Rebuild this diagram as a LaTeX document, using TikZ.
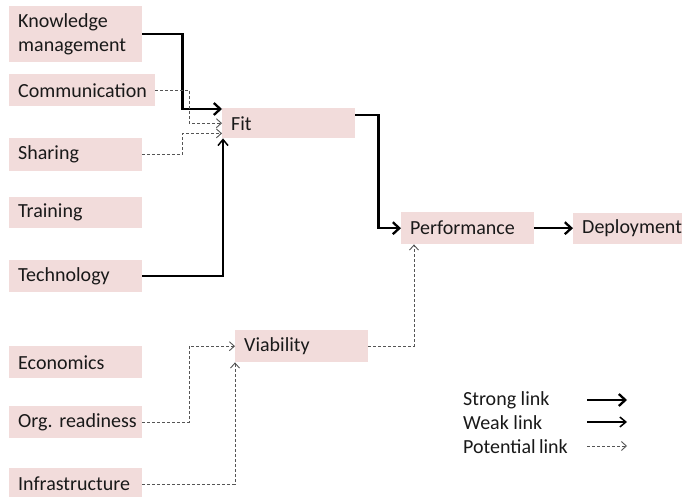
\documentclass[tikz,border=0pt]{standalone}
\usepackage{fontspec}
\setmainfont{Carlito}
\usetikzlibrary{arrows.meta,calc}
\frenchspacing
\definecolor{boxpink}{RGB}{242,220,219}
\definecolor{potgray}{RGB}{85,85,85}
\tikzset{
  factor/.style={fill=boxpink, anchor=north west, inner xsep=9pt, inner ysep=0pt,
    align=left, font=\fontsize{20}{24}\selectfont, text=black!90},
  legendtext/.style={anchor=west, inner sep=0pt, font=\fontsize{20}{24}\selectfont, text=black!90},
  strong/.style={line width=2.3pt, -{Straight Barb[length=6.5pt,width=12pt,line width=2.3pt]}},
  weak/.style={line width=1.5pt, -{Straight Barb[length=6pt,width=10pt,line width=1.5pt]}},
  potential/.style={line width=0.9pt, potgray, dash pattern=on 3pt off 2pt,
    -{Straight Barb[length=5pt,width=9pt,line width=0.9pt]}},
}
\begin{document}
\begin{tikzpicture}[x=1pt, y=-1pt]
\useasboundingbox (0,0) rectangle (682,497);

% input factors
\node[factor, text width=115pt, minimum height=56pt] (km) at (9,6) {Knowledge\\management};
\node[factor, text width=128pt, minimum height=32pt] (comm) at (9,74) {\mbox{Communication}};
\node[factor, text width=115pt, minimum height=33pt] (share) at (9,138) {\mbox{Sharing}};
\node[factor, text width=115pt, minimum height=31pt] (train) at (9,197) {\mbox{Training}};
\node[factor, text width=115pt, minimum height=32pt] (tech) at (9,260) {\mbox{Technology}};
\node[factor, text width=115pt, minimum height=32pt] (econ) at (9,346) {\mbox{Economics}};
\node[factor, text width=115pt, minimum height=32pt] (org) at (9,406) {\mbox{Org. readiness}};
\node[factor, text width=115pt, minimum height=32pt] (infra) at (9,468) {\mbox{Infrastructure}};

% intermediate and outcome nodes
\node[factor, text width=115pt, minimum height=30pt] (fit) at (222,108) {\mbox{Fit}};
\node[factor, text width=115pt, minimum height=32pt] (via) at (235,330) {\mbox{Viability}};
\node[factor, text width=115pt, minimum height=32pt] (perf) at (401,212) {\mbox{Performance}};
\node[factor, text width=115pt, minimum height=31pt] (dep) at (573,212.5) {\mbox{Deployment}};

% links into Fit
\draw[strong] (km.east) -- ++(40,0) |- ($(fit.north west)+(0,1)$);
\draw[potential] (comm.east) -- ++(34,0) |- (fit.west);
\draw[potential] (share.east) -- ++(40,0) |- ($(fit.south west)+(0,-5)$);
\draw[weak] (tech.east) -| ($(fit.south west)+(1,0)$);

% links into Viability
\draw[potential] (org.east) -- ++(47,0) |- (via.west);
\draw[potential] (infra.east) -| (via.south west);

% links into Performance and Deployment
\draw[strong] ($(fit.east)+(0,-8)$) -- ++(23,0) |- (perf.west);
\draw[potential] (via.east) -| ($(perf.south west)+(13,0)$);
\draw[strong] (perf.east) -- (dep.west);

% legend
\node[legendtext] (lstrong) at (463,400) {Strong link};
\node[legendtext] (lweak) at (463,423) {Weak link};
\node[legendtext] (lpot) at (463,447) {Potential\,link};
\coordinate (astrong) at (587,400);
\coordinate (aweak) at (587,422);
\coordinate (apot) at (587,446);
\draw[strong] (astrong) -- ++(40,0);
\draw[weak] (aweak) -- ++(40,0);
\draw[potential] (apot) -- ++(40,0);
\end{tikzpicture}
\end{document}
